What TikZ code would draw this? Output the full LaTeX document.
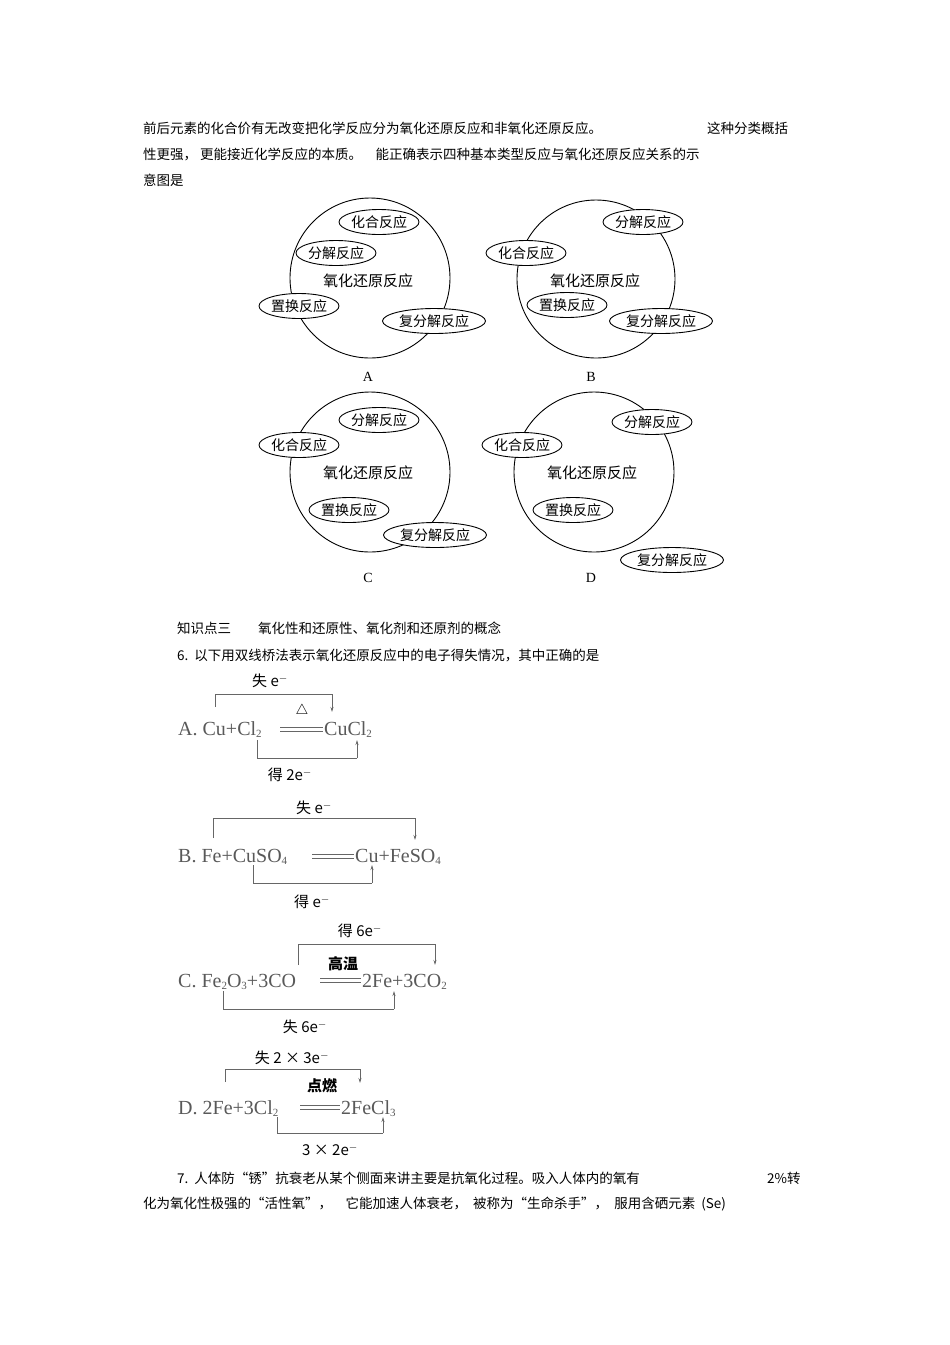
\documentclass[tikz,border=0pt]{standalone}
\usepackage{fontspec}
\setmainfont{Liberation Serif}
\newfontfamily\cjk{Noto Sans CJK SC}
\usetikzlibrary{shapes.geometric,arrows.meta}
\begin{document}
\begin{tikzpicture}[x=1pt,y=-1pt,
  zh/.style={inner sep=0pt,anchor=base west,font=\cjk\fontsize{13.5}{15}\selectfont},
  ell/.style={ellipse,draw,fill=white,line width=0.9pt,minimum width=80pt,minimum height=25pt,inner sep=0pt,font=\cjk\fontsize{14}{15}\selectfont},
  ell5/.style={ell,minimum width=103pt},
  big/.style={draw,line width=0.9pt},
  lab/.style={font=\fontsize{14}{15}\selectfont},
  eq/.style={inner sep=0pt,anchor=base west,text=black!65,font=\fontsize{20}{22}\selectfont},
  el/.style={inner sep=0pt,font=\cjk\fontsize{15}{16}\selectfont},
  br/.style={draw=black!60,line width=0.8pt},
  arr/.style={br,-{Stealth[length=5pt,width=3pt]}}]
\useasboundingbox (0,0) rectangle (950,1345);
% intro
\node[zh] (t1) at (143,133) {前后元素的化合价有无改变把化学反应分为氧化还原反应和非氧化还原反应。};
\node[zh] (t1b) at (707,133) {这种分类概括};
\node[zh] (t2) at (143,159) {性更强，\ 更能接近化学反应的本质。\quad 能正确表示四种基本类型反应与氧化还原反应关系的示};
\node[zh] (t3) at (143,185) {意图是};
% A
\draw[big] (370,278) circle (80);
\node[ell] (a1) at (379,222) {化合反应};
\node[ell] (a2) at (336,253) {分解反应};
\node[el] (a0) at (368,281) {氧化还原反应};
\node[ell] (a3) at (299,306) {置换反应};
\node[ell5] (a4) at (434,321) {复分解反应};
\node[lab] (la) at (368,377) {A};
% B
\draw[big] (596,279) circle (79);
\node[ell] (b1) at (643,222) {分解反应};
\node[ell] (b2) at (526,253) {化合反应};
\node[el] (b0) at (595,281) {氧化还原反应};
\node[ell] (b3) at (567,305) {置换反应};
\node[ell5] (b4) at (661,321) {复分解反应};
\node[lab] (lb) at (591,377) {B};
% C
\draw[big] (370,472) circle (80);
\node[ell] (c1) at (379,420) {分解反应};
\node[ell] (c2) at (299,445) {化合反应};
\node[el] (c0) at (368,473) {氧化还原反应};
\node[ell] (c3) at (349,510) {置换反应};
\node[ell5] (c4) at (435,535) {复分解反应};
\node[lab] (lc) at (368,578) {C};
% D
\draw[big] (594,472) circle (80);
\node[ell] (d1) at (652,422) {分解反应};
\node[ell] (d2) at (522,445) {化合反应};
\node[el] (d0) at (592,473) {氧化还原反应};
\node[ell] (d3) at (573,510) {置换反应};
\node[ell5] (d4) at (672,560) {复分解反应};
\node[lab] (ld) at (591,578) {D};
% section
\node[zh] (k3) at (177,633) {知识点三\qquad 氧化性和还原性、氧化剂和还原剂的概念};
\node[zh] (q6) at (177,660) {6.\ \ 以下用双线桥法表示氧化还原反应中的电子得失情况，其中正确的是};
% Eq A
\node[eq] (ea) at (178,735) {A. Cu+Cl\raisebox{-2pt}{\fontsize{11}{11}\selectfont 2}};
\draw[black!60] (280,727) -- (323,727) (280,731) -- (323,731);
\node[eq] (ea2) at (324,735) {CuCl\raisebox{-2pt}{\fontsize{11}{11}\selectfont 2}};
\node[el] (ca) at (302,711) {$\bigtriangleup$};
\node[el] (la1) at (270,681) {失 e$^-$};
\node[el] (la2) at (290,775) {得 2e$^-$};
\coordinate (a11) at (215,707); \coordinate (a12) at (332,712);
\coordinate (a21) at (257,740); \coordinate (a22) at (357,740);
\draw[br] (a11) -- (215,694) -- (332,694); \draw[arr] (332,694) -- (a12);
\draw[br] (a21) -- (257,758) -- (357,758); \draw[arr] (357,758) -- (a22);
% Eq B
\node[eq] (eb) at (178,862) {B. Fe+CuSO\raisebox{-2pt}{\fontsize{11}{11}\selectfont 4}};
\draw[black!60] (312,854) -- (354,854) (312,858) -- (354,858);
\node[eq] (eb2) at (355,862) {Cu+FeSO\raisebox{-2pt}{\fontsize{11}{11}\selectfont 4}};
\node[el] (lb1) at (314,808) {失 e$^-$};
\node[el] (lb2) at (312,902) {得 e$^-$};
\coordinate (b11) at (213,838); \coordinate (b12) at (415,840);
\coordinate (b21) at (253,865); \coordinate (b22) at (372,865);
\draw[br] (b11) -- (213,818) -- (415,818); \draw[arr] (415,818) -- (b12);
\draw[br] (b21) -- (253,883) -- (372,883); \draw[arr] (372,883) -- (b22);
% Eq C
\node[eq] (ec) at (178,987) {C. Fe\raisebox{-2pt}{\fontsize{11}{11}\selectfont 2}O\raisebox{-2pt}{\fontsize{11}{11}\selectfont 3}+3CO};
\draw[black!60] (320,978) -- (361,978) (320,982) -- (361,982);
\node[eq] (ec2) at (362,987) {2Fe+3CO\raisebox{-2pt}{\fontsize{11}{11}\selectfont 2}};
\node[el,font=\cjk\bfseries\fontsize{15}{16}\selectfont] (cc) at (343,964) {高温};
\node[el] (lc1) at (360,931) {得 6e$^-$};
\node[el] (lc2) at (305,1027) {失 6e$^-$};
\coordinate (c11) at (298,965); \coordinate (c12) at (435,965);
\coordinate (c21) at (223,991); \coordinate (c22) at (394,991);
\draw[br] (c11) -- (298,944) -- (435,944); \draw[arr] (435,944) -- (c12);
\draw[br] (c21) -- (223,1009) -- (394,1009); \draw[arr] (394,1009) -- (c22);
% Eq D
\node[eq] (ed) at (178,1114) {D. 2Fe+3Cl\raisebox{-2pt}{\fontsize{11}{11}\selectfont 2}};
\draw[black!60] (300,1105) -- (340,1105) (300,1109) -- (340,1109);
\node[eq] (ed2) at (341,1114) {2FeCl\raisebox{-2pt}{\fontsize{11}{11}\selectfont 3}};
\node[el,font=\cjk\bfseries\fontsize{15}{16}\selectfont] (cd) at (322,1086) {点燃};
\node[el] (ld1) at (292,1058) {失 2 × 3e$^-$};
\node[el] (ld2) at (330,1150) {3 × 2e$^-$};
\coordinate (d11) at (225,1082); \coordinate (d12) at (360,1083);
\coordinate (d21) at (277,1117); \coordinate (d22) at (383,1117);
\draw[br] (d11) -- (225,1069) -- (360,1069); \draw[arr] (360,1069) -- (d12);
\draw[br] (d21) -- (277,1133) -- (383,1133); \draw[arr] (383,1133) -- (d22);
% Q7
\node[zh] (q7) at (177,1183) {7.\ \ 人体防“锈”抗衰老从某个侧面来讲主要是抗氧化过程。吸入人体内的氧有};
\node[zh] (q7b) at (767,1183) {2\%转};
\node[zh] (q7c) at (143,1208) {化为氧化性极强的“活性氧”，\quad 它能加速人体衰老，\ \ 被称为“生命杀手”，\ \ 服用含硒元素\ \ (Se)};
\end{tikzpicture}
\end{document}
